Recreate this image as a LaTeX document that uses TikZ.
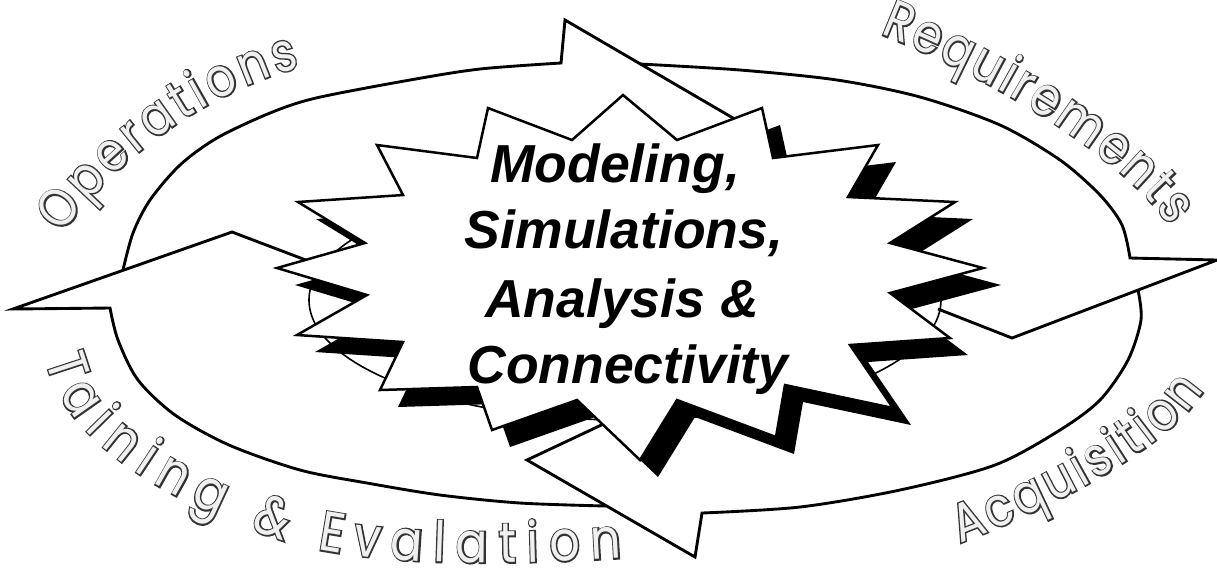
\documentclass[tikz,border=0pt]{standalone}
\usepackage{fontspec}
\setmainfont{Liberation Sans}
\newfontfamily\bigfont{Liberation Sans}
\newfontfamily\rimfont[FakeStretch=0.85]{Poppins}
\newfontfamily\rimbold[FakeStretch=0.85,FakeBold=5]{Poppins}
\usetikzlibrary{decorations.text}
\newcommand\rimlabel[3]{%
  \path[decorate,decoration={text along path,
     text={|\rimbold\fontsize{#1}{24}\selectfont|#2},
     text align={fit to path},text color=black!80}] #3;
  \path[decorate,decoration={text along path,
     text={|\rimfont\fontsize{#1}{24}\selectfont|#2},
     text align={fit to path},text color=black!6}] #3;
}
\def\burstpath{(377,145) -- (477,158) -- (488,108) -- (572,140) -- (623,95) -- (677,140) -- (762,108) -- (773,158) -- (878,145) -- (848,197) -- (955,202) -- (890,243) -- (983,268) -- (890,293) -- (950,338) -- (850,345) -- (893,408) -- (785,385) -- (776,437) -- (677,400) -- (640,460) -- (577,400) -- (492,430) -- (477,387) -- (380,390) -- (403,342) -- (297,335) -- (367,295) -- (277,268) -- (365,243) -- (298,202) -- (403,195) -- cycle}
\begin{document}
\begin{tikzpicture}[x=0.4pt,y=-0.4pt,
  band/.style={line width=1.15pt,line join=miter},
  innerline/.style={line width=0.64pt},
  burst/.style={fill=white,draw=black,line width=1.0pt,line join=miter},
  burstshadow/.style={fill=black},
  heading/.style={font=\bigfont\bfseries\itshape\fontsize{21.4}{24}\selectfont,inner sep=0pt,anchor=base}]
\useasboundingbox (0,0) rectangle (1217,569);
% inner edge of the ring
\draw[innerline] (625,300) ellipse [x radius=316, y radius=120];
% Operations arrow
\draw[band] plot[smooth] coordinates {(123,270) (133,233) (150,200) (180,165) (217,138) (270,113) (316,98) (410,80) (480,69) (561,63)} -- (565,20) -- (745,125);
% Requirements arrow
\draw[band] plot[smooth] coordinates {(640,64) (740,70) (837,80) (920,97) (1000,125) (1060,160) (1100,195) (1122,225) (1130,258)} -- (1217,260) -- (1012,338) -- (938,309);
% Acquisition arrow
\draw[band] plot[smooth] coordinates {(1138,290) (1141,320) (1128,360) (1100,400) (1060,430) (995,465) (900,490) (800,507) (702,513)} -- (695,557) -- (527,460) -- (612,420);
% Training arrow
\draw[band] plot[smooth] coordinates {(606,506) (520,503) (440,495) (367,483) (300,470) (229,445) (175,415) (138,380) (118,340) (110,308)} -- (13,309) -- (232,232) -- (319,265);
% burst
\fill[burstshadow,shift={(18,17)}] \burstpath;
\draw[burst] \burstpath;
% central text
\node[heading] (l1) at (615,182) {Modeling,};
\node[heading] (l2) at (624,248) {Simulations,};
\node[heading] (l3) at (622,317) {Analysis \&};
\node[heading] (l4) at (628,383) {Connectivity};
% rim labels
\rimlabel{21.6}{Operations}{(62,234) .. controls (122,152) and (208,93) .. (300,67)}
\rimlabel{21.6}{Requirements}{(880,34) .. controls (982,74) and (1116,150) .. (1170,226)}
\rimlabel{21.6}{Acquisition}{(960,543) .. controls (1048,510) and (1170,448) .. (1204,390)}
\rimlabel{22.4}{Taining {\&} Evalation}{(46,360) .. controls (60,430) and (150,500) .. (300,546) .. controls (400,568) and (520,564) .. (622,558)}
\end{tikzpicture}
\end{document}
